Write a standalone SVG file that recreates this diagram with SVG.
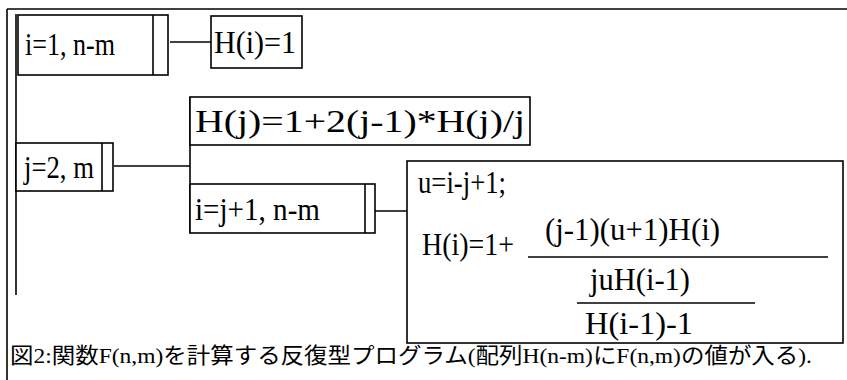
<svg xmlns="http://www.w3.org/2000/svg" width="847" height="380" viewBox="0 0 847 380">
<style>
.ln{stroke:#000;stroke-width:1.6;fill:none}
.bx{stroke:#000;stroke-width:1.6;fill:#fff}
.t{font-family:'Liberation Serif',serif;font-size:32px;fill:#000}
.c{font-family:'Liberation Serif','Noto Sans CJK JP',serif;font-size:22px;fill:#000}
</style>
<rect width="847" height="380" fill="#fff"/>
<g id="frame">
<path class="ln" d="M7,9 H847" stroke-width="2.5"/>
<path class="ln" d="M7,9 V380"/>
<path class="ln" d="M16,14 V295"/>
</g>
<g id="connectors">
<path class="ln" d="M170,42 H211"/>
<path class="ln" d="M114,166 H190"/>
<path class="ln" d="M190,97 V233"/>
<path class="ln" d="M370,211 H413"/>
</g>
<g id="loop_i1">
<rect class="bx" x="18" y="15" width="150" height="60"/>
<path class="ln" d="M153,15 V75"/>
<text class="t" x="25" y="55" textLength="90" lengthAdjust="spacingAndGlyphs">i=1, n-m</text>
</g>
<g id="init_h">
<rect class="bx" x="211" y="16" width="91" height="52"/>
<text class="t" x="214" y="53" textLength="82" lengthAdjust="spacingAndGlyphs">H(i)=1</text>
</g>
<g id="loop_j">
<rect class="bx" x="16" y="143" width="97" height="48"/>
<path class="ln" d="M102,143 V191"/>
<text class="t" x="24" y="178" textLength="70" lengthAdjust="spacingAndGlyphs">j=2, m</text>
</g>
<g id="assign_hj">
<rect class="bx" x="190" y="97" width="340" height="48"/>
<text class="t" x="195" y="132" textLength="330" lengthAdjust="spacingAndGlyphs">H(j)=1+2(j-1)*H(j)/j</text>
</g>
<g id="loop_i2">
<rect class="bx" x="190" y="184" width="185" height="49"/>
<path class="ln" d="M365,184 V233"/>
<text class="t" x="195" y="220" textLength="125" lengthAdjust="spacingAndGlyphs">i=j+1, n-m</text>
</g>
<g id="body">
<rect class="bx" x="407" y="161" width="436" height="182"/>
<text class="t" x="418" y="193" textLength="88" lengthAdjust="spacingAndGlyphs">u=i-j+1;</text>
<text class="t" x="422" y="255" textLength="92" lengthAdjust="spacingAndGlyphs">H(i)=1+</text>
<text class="t" x="545" y="240" textLength="175" lengthAdjust="spacingAndGlyphs">(j-1)(u+1)H(i)</text>
<path class="ln" d="M528,257 H828"/>
<text class="t" x="590" y="290" textLength="100" lengthAdjust="spacingAndGlyphs">juH(i-1)</text>
<path class="ln" d="M577,303 H755"/>
<text class="t" x="585" y="334" textLength="108" lengthAdjust="spacingAndGlyphs">H(i-1)-1</text>
</g>
<g id="caption">
<text class="c" x="10" y="363" textLength="802" lengthAdjust="spacingAndGlyphs">図2:関数F(n,m)を計算する反復型プログラム(配列H(n-m)にF(n,m)の値が入る).</text>
</g>
</svg>
